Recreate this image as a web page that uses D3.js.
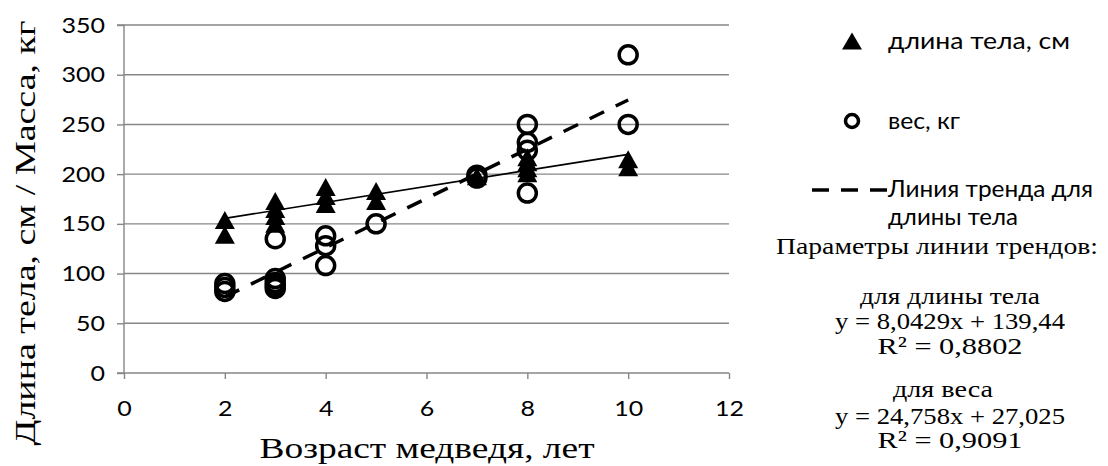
<!DOCTYPE html>
<html><head><meta charset="utf-8">
<script src="https://cdn.jsdelivr.net/npm/d3@7"></script>
<style>
html,body{margin:0;padding:0;background:#fff;}
svg{display:block;}
</style></head>
<body>
<svg id="chart" width="1108" height="466"></svg>
<script>
// ---- data ----
const lengthAge   = [2,2, 3,3,3,3, 4,4,4, 5,5, 7, 8,8,8,8, 10,10];
const lengthValue = [154,139, 173,165,158,150, 187,178,170, 183,173, 198, 217,212,206,201, 215,207];
const weightAge   = [2,2,2, 3,3,3,3,3, 4,4,4, 5, 7,7, 8,8,8,8, 10,10];
const weightValue = [90,86,82, 135,95,91,88,85, 138,128,108, 150, 199,196, 250,232,224,181, 320,250];
const trendLength = [8.0429, 139.44];   // slope, intercept
const trendWeight = [24.758, 27.025];
const trendRange  = [2, 10];
const xTicks = [0,2,4,6,8,10,12];
const yTicks = [0,50,100,150,200,250,300,350];
const legendLabels = ["длина тела, см", "вес, кг", "Линия тренда для", "длины тела"];
const paramLines = ["Параметры линии трендов:", "для длины тела", "y = 8,0429x + 139,44", "R² = 0,8802",
                    "для веса", "y = 24,758x + 27,025", "R² = 0,9091"];
const xTitle = "Возраст медведя, лет";
const yTitle = "Длина тела, см / Масса, кг";

// ---- layout ----
const svg = d3.select("#chart");
const L = 124, R = 729, T = 25, B = 373;
const x = d3.scaleLinear().domain([0,12]).range([L,R]);
const y = d3.scaleLinear().domain([0,350]).range([B,T]);
const grey = "#878787";
const sansFont = "Lato, 'Open Sans', sans-serif";
const serifFont = "'Liberation Serif', 'DejaVu Serif', serif";
const digitW = 14.5;

// gridlines
svg.append("g").selectAll("line").data(yTicks.filter(d=>d>0)).join("line")
  .attr("x1", L).attr("x2", R).attr("y1", d=>y(d)).attr("y2", d=>y(d))
  .attr("stroke", grey).attr("stroke-width", 1.4);

// axes
const yAxis = svg.append("g").attr("transform", `translate(${L},0)`)
  .call(d3.axisLeft(y).tickValues(yTicks).tickSize(7).tickPadding(12).tickFormat(d3.format("d")));
const xAxis = svg.append("g").attr("transform", `translate(0,${B})`)
  .call(d3.axisBottom(x).tickValues(xTicks).tickSize(6).tickPadding(21).tickFormat(d3.format("d")));
[yAxis, xAxis].forEach(g => {
  g.select(".domain").attr("stroke", grey).attr("stroke-width", 1.4);
  g.selectAll(".tick line").attr("stroke", grey).attr("stroke-width", 1.4);
  g.selectAll(".tick text").attr("fill", "#000").style("font-family", sansFont).style("font-size", "22px")
    .attr("textLength", function(){ return this.textContent.length * digitW; })
    .attr("lengthAdjust", "spacingAndGlyphs");
});
yAxis.select(".domain").attr("d", `M-7,${T}H0V${B}H-7`);
xAxis.select(".domain").attr("d", `M${L},0H${R}`);

// trend lines
const line = d3.line().x(d=>x(d[0])).y(d=>y(d[1]));
const trendPts = c => trendRange.map(a => [a, c[0]*a + c[1]]);
svg.append("path").attr("d", line(trendPts(trendLength)))
  .attr("fill","none").attr("stroke","#000").attr("stroke-width",1.7);
svg.append("path").attr("d", line(trendPts(trendWeight)))
  .attr("fill","none").attr("stroke","#000").attr("stroke-width",3.5)
  .attr("stroke-dasharray","16,13");

// markers
const triW = 20, triH = 18, circR = 9;
const triPath = `M0,${-triH/2}L${triW/2},${triH/2}L${-triW/2},${triH/2}Z`;
svg.append("g").selectAll("path").data(lengthAge.map((a,i)=>[a,lengthValue[i]])).join("path")
  .attr("d", triPath).attr("transform", d=>`translate(${x(d[0])},${y(d[1])})`).attr("fill","#000");
svg.append("g").selectAll("circle").data(weightAge.map((a,i)=>[a,weightValue[i]])).join("circle")
  .attr("cx", d=>x(d[0])).attr("cy", d=>y(d[1])).attr("r", circR)
  .attr("fill","none").attr("stroke","#000").attr("stroke-width",3.5);

// axis titles
function txt(g, s, xx, yy, font, size, len, anchor){
  return g.append("text").text(s).attr("x", xx).attr("y", yy).attr("text-anchor", anchor || "start")
    .style("font-family", font).style("font-size", size + "px")
    .attr("textLength", len).attr("lengthAdjust", "spacingAndGlyphs");
}
txt(svg, xTitle, 427, 458, serifFont, 29, 335, "middle");
txt(svg, yTitle, 0, 0, serifFont, 29, 425, "middle").attr("transform","translate(35,233) rotate(-90)");

// legend
const lg = svg.append("g");
lg.append("path").attr("d", `M0,-8.5L10,8.5L-10,8.5Z`).attr("transform","translate(852,41)").attr("fill","#000");
lg.append("circle").attr("cx",852).attr("cy",121).attr("r",6.5).attr("fill","none").attr("stroke","#000").attr("stroke-width",3.5);
lg.append("line").attr("x1",812).attr("x2",887).attr("y1",190).attr("y2",190)
  .attr("stroke","#000").attr("stroke-width",3.3).attr("stroke-dasharray","17,12");
const legY = [49, 129, 197, 225];
const legLen = [182, 72, 205, 130];
legendLabels.forEach((t,i)=> txt(lg, t, 888, legY[i], sansFont, 23, legLen[i]));
const parY = [254, 304, 329, 354, 397, 424, 448];
const parX = [937, 950, 950, 950, 943, 950, 950];
const parLen = [322, 180, 230, 145, 100, 230, 145];
paramLines.forEach((t,i)=> txt(lg, t, parX[i], parY[i], serifFont, 24, parLen[i], "middle"));
</script>
</body></html>
